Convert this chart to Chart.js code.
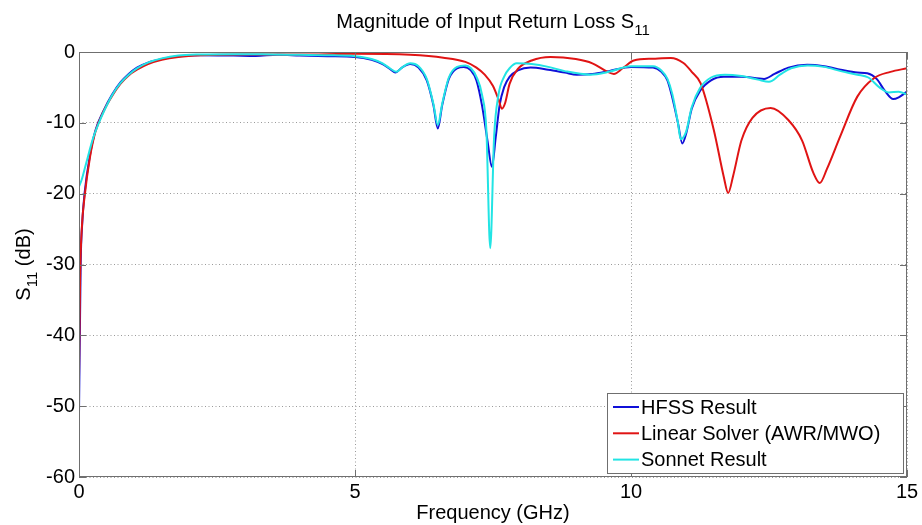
<!DOCTYPE html>
<html>
<head>
<meta charset="utf-8">
<script src="https://cdn.jsdelivr.net/npm/chart.js@4/dist/chart.umd.min.js"></script>
<style>
    html, body { margin: 0; padding: 0; background: #ffffff; }
    canvas { display: block; }
</style>
</head>
<body>
<canvas id="s11Chart" width="922" height="525"></canvas>
<script>
// frequency axis in GHz, magnitude in dB
const hfssFreq = [0, 0.03, 0.06, 0.1, 0.2, 0.3, 0.45, 0.6, 0.75, 0.9, 1.05, 1.25, 1.5, 1.8, 2.2, 2.8, 3.2, 3.6, 4.0, 4.5, 5.0, 5.3, 5.5, 5.65, 5.73, 5.85, 6.0, 6.15, 6.3, 6.42, 6.5, 6.58, 6.7, 6.85, 6.97, 7.1, 7.2, 7.3, 7.4, 7.48, 7.55, 7.62, 7.7, 7.8, 7.95, 8.18, 8.5, 8.8, 9.02, 9.3, 9.6, 10.0, 10.4, 10.55, 10.66, 10.75, 10.85, 10.93, 11.0, 11.1, 11.25, 11.45, 11.68, 12.0, 12.41, 12.6, 12.85, 13.19, 13.5, 13.8, 14.1, 14.28, 14.45, 14.6, 14.75, 14.85, 15.0];
const hfssDb = [-51, -30, -24, -20, -14.5, -11, -8.2, -6, -4.3, -3.1, -2.2, -1.5, -1.0, -0.6, -0.45, -0.5, -0.55, -0.4, -0.5, -0.6, -0.7, -1.1, -1.7, -2.5, -2.9, -2.2, -1.7, -2.2, -4, -7.5, -10.8, -7.5, -3.8, -2.3, -2.1, -2.6, -4.0, -7.5, -12.5, -16.2, -12, -7.5, -5, -3.5, -2.6, -2.2, -2.5, -2.9, -3.2, -3.1, -2.7, -2.1, -2.2, -2.8, -4.0, -6.5, -10, -12.9, -11.5, -8, -5.5, -4, -3.5, -3.5, -3.8, -3.1, -2.2, -1.8, -2.0, -2.5, -2.9, -3.0, -3.8, -5.5, -6.65, -6.4, -5.6];

const linearFreq = [0, 0.02, 0.05, 0.1, 0.2, 0.3, 0.45, 0.6, 0.75, 0.9, 1.05, 1.25, 1.5, 1.8, 2.2, 3.0, 4.0, 5.0, 6.0, 6.6, 7.0, 7.2, 7.35, 7.5, 7.6, 7.66, 7.72, 7.8, 7.95, 8.2, 8.54, 9.0, 9.3, 9.55, 9.69, 9.85, 10.05, 10.4, 10.72, 10.95, 11.1, 11.26, 11.5, 11.68, 11.76, 11.85, 12.0, 12.2, 12.53, 12.85, 13.1, 13.3, 13.42, 13.55, 13.79, 14.1, 14.4, 14.7, 15.0];
const linearDb = [-46, -32, -25, -20.5, -14.8, -11.2, -8.3, -6.2, -4.5, -3.3, -2.5, -1.7, -1.1, -0.7, -0.45, -0.35, -0.35, -0.25, -0.4, -0.8, -1.4, -2.2, -3.2, -4.8, -6.7, -8.0, -7.2, -4.5, -2.4, -1.2, -0.7, -1.0, -1.6, -2.7, -3.1, -2.3, -1.2, -0.95, -0.85, -1.56, -2.8, -4.4, -11, -17.6, -19.9, -17.5, -12.5, -9.3, -7.9, -9.6, -12.5, -17, -18.5, -16.5, -11.9, -6.3, -3.7, -2.8, -2.3];

const sonnetFreq = [0, 0.05, 0.13, 0.25, 0.35, 0.45, 0.6, 0.75, 0.9, 1.05, 1.25, 1.5, 1.8, 2.2, 2.8, 3.5, 4.0, 4.5, 5.0, 5.3, 5.5, 5.65, 5.75, 5.85, 6.0, 6.15, 6.3, 6.42, 6.5, 6.58, 6.7, 6.85, 7.0, 7.1, 7.2, 7.3, 7.38, 7.45, 7.52, 7.6, 7.7, 7.8, 7.93, 8.2, 8.5, 8.8, 9.26, 9.6, 10.0, 10.4, 10.55, 10.66, 10.75, 10.85, 10.9, 11.0, 11.1, 11.25, 11.45, 11.7, 12.0, 12.3, 12.5, 12.7, 12.9, 13.2, 13.5, 13.8, 14.1, 14.3, 14.5, 14.67, 14.85, 15.0];
const sonnetDb = [-19, -18, -15.7, -12.3, -10.2, -8.4, -6.1, -4.4, -3.2, -2.3, -1.5, -0.9, -0.5, -0.35, -0.3, -0.35, -0.4, -0.45, -0.6, -1.0, -1.6, -2.4, -2.8, -2.2, -1.6, -2.0, -3.8, -7.3, -10.3, -7.3, -3.6, -2.1, -1.9, -2.3, -3.5, -6, -11, -27.7, -12, -6, -3.5, -2.3, -1.6, -1.7, -2.1, -2.7, -3.2, -2.8, -2.0, -2.0, -2.6, -3.8, -6, -10, -12.3, -11.2, -7.8, -5.1, -3.6, -3.2, -3.4, -3.9, -4.2, -3.2, -2.3, -1.9, -2.1, -2.7, -3.2, -3.6, -5.0, -5.7, -5.6, -6.0];

const seriesLabels = ["HFSS Result", "Linear Solver (AWR/MWO)", "Sonnet Result"];
const seriesColors = ["#1010d8", "#e01414", "#22e4e4"];

const FONT = "Arial, 'Liberation Sans', sans-serif";
const AXIS_GRAY = "#6f6f6f";

function toPoints(xs, ys) {
    return xs.map((x, i) => ({ x: x, y: ys[i] }));
}

// title and y label have subscripts, so they are drawn by hand
function drawSubscripted(ctx, parts, x, y, align) {
    const widths = parts.map((p) => {
        ctx.font = p.sub ? `15px ${FONT}` : `20px ${FONT}`;
        return ctx.measureText(p.text).width;
    });
    const total = widths.reduce((a, b) => a + b, 0);
    let cx = align === "center" ? x - total / 2 : x;
    parts.forEach((p, i) => {
        ctx.font = p.sub ? `15px ${FONT}` : `20px ${FONT}`;
        ctx.fillText(p.text, cx, p.sub ? y + 7 : y);
        cx += widths[i];
    });
}

const framePlugin = {
    id: "frame",
    afterDatasetsDraw(chart) {
        const { ctx, chartArea: a, scales } = chart;
        ctx.save();
        ctx.strokeStyle = AXIS_GRAY;
        ctx.lineWidth = 1;
        ctx.strokeRect(a.left + 0.5, a.top + 0.5, a.right - a.left - 1, a.bottom - a.top - 1);

        // inward tick marks on all four sides
        const len = 7;
        ctx.beginPath();
        scales.x.ticks.forEach((t) => {
            const px = Math.round(scales.x.getPixelForValue(t.value)) + 0.5;
            ctx.moveTo(px, a.bottom);
            ctx.lineTo(px, a.bottom - len);
            ctx.moveTo(px, a.top);
            ctx.lineTo(px, a.top + len);
        });
        scales.y.ticks.forEach((t) => {
            const py = Math.round(scales.y.getPixelForValue(t.value)) + 0.5;
            ctx.moveTo(a.left, py);
            ctx.lineTo(a.left + len, py);
            ctx.moveTo(a.right, py);
            ctx.lineTo(a.right - len, py);
        });
        ctx.stroke();

        // legend box in the lower right corner
        const box = { left: 607, top: 393, width: 296, height: 80 };
        ctx.fillStyle = "#ffffff";
        ctx.fillRect(box.left, box.top, box.width, box.height);
        ctx.strokeRect(box.left + 0.5, box.top + 0.5, box.width, box.height);
        ctx.font = `20px ${FONT}`;
        ctx.textBaseline = "middle";
        ctx.textAlign = "left";
        chart.data.datasets.forEach((ds, i) => {
            const rowY = box.top + 14 + i * 26.3;
            ctx.strokeStyle = ds.borderColor;
            ctx.lineWidth = 2;
            ctx.beginPath();
            ctx.moveTo(box.left + 6, rowY);
            ctx.lineTo(box.left + 32, rowY);
            ctx.stroke();
            ctx.fillStyle = "#000000";
            ctx.fillText(ds.label, box.left + 34, rowY + 1);
        });

        // title
        ctx.fillStyle = "#000000";
        ctx.textBaseline = "alphabetic";
        drawSubscripted(ctx, [
            { text: "Magnitude of Input Return Loss S" },
            { text: "11", sub: true }
        ], (a.left + a.right) / 2, 28, "center");

        // y axis label
        ctx.translate(30, (a.top + a.bottom) / 2);
        ctx.rotate(-Math.PI / 2);
        drawSubscripted(ctx, [
            { text: "S" },
            { text: "11", sub: true },
            { text: " (dB)" }
        ], 0, 0, "center");
        ctx.restore();
    }
};

const gridStyle = {
    color: "#9a9a9a",
    lineWidth: 1,
    drawTicks: false
};

new Chart(document.getElementById("s11Chart").getContext("2d"), {
    type: "line",
    data: {
        datasets: [
            { label: seriesLabels[0], data: toPoints(hfssFreq, hfssDb), borderColor: seriesColors[0], order: 2 },
            { label: seriesLabels[1], data: toPoints(linearFreq, linearDb), borderColor: seriesColors[1], order: 1 },
            { label: seriesLabels[2], data: toPoints(sonnetFreq, sonnetDb), borderColor: seriesColors[2], order: 0 }
        ]
    },
    options: {
        responsive: false,
        animation: false,
        devicePixelRatio: 1,
        layout: { padding: { left: 0, right: 15, top: 52, bottom: 0 } },
        elements: {
            line: { borderWidth: 2, cubicInterpolationMode: "monotone", fill: false },
            point: { radius: 0 }
        },
        plugins: {
            legend: { display: false },
            tooltip: { enabled: false }
        },
        scales: {
            x: {
                type: "linear",
                min: 0,
                max: 15,
                afterFit(scale) { scale.height = 48; },
                border: { display: false, dash: [1, 2.5] },
                grid: Object.assign({}, gridStyle),
                ticks: {
                    stepSize: 5,
                    color: "#000000",
                    padding: 3,
                    font: { family: FONT, size: 20 }
                },
                title: {
                    display: true,
                    text: "Frequency (GHz)",
                    color: "#000000",
                    padding: 0,
                    font: { family: FONT, size: 20 }
                }
            },
            y: {
                min: -60,
                max: 0,
                afterFit(scale) { scale.width = 79; },
                border: { display: false, dash: [1, 2.5] },
                grid: Object.assign({}, gridStyle),
                ticks: {
                    stepSize: 10,
                    color: "#000000",
                    padding: 4,
                    font: { family: FONT, size: 20 }
                }
            }
        }
    },
    plugins: [framePlugin]
});
</script>
</body>
</html>
